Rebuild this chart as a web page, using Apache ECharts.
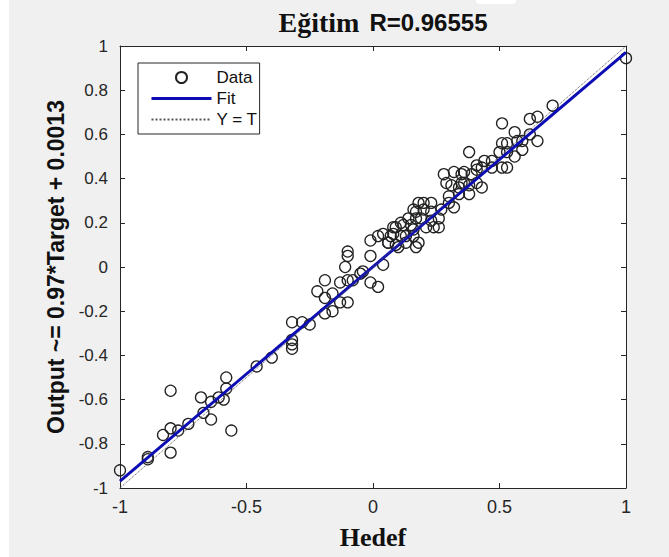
<!DOCTYPE html>
<html>
<head>
<meta charset="utf-8">
<script src="https://cdn.jsdelivr.net/npm/echarts@6/dist/echarts.min.js"></script>
<style>
html,body{margin:0;padding:0;background:#f0f0f0;}
#chart{width:669px;height:557px;}
</style>
</head>
<body>
<div id="chart"></div>
<script>
// Data (Target, Output)
const targets = [
 -1.00,-0.89,-0.89,-0.80,-0.83,-0.80,-0.77,-0.73,-0.80,-0.68,-0.67,-0.64,-0.64,-0.61,-0.59,-0.58,-0.58,-0.56,
 -0.46,-0.40,-0.32,-0.28,-0.25,-0.32,-0.32,-0.32,-0.22,-0.19,-0.19,-0.19,-0.16,-0.13,-0.10,-0.16,-0.13,-0.10,-0.08,
 -0.10,-0.10,-0.11,-0.05,-0.04,-0.01,0.02,-0.01,-0.01,0.02,0.04,0.06,0.08,0.08,0.10,0.11,0.13,0.14,0.16,0.17,0.17,
 0.04,0.06,0.07,0.09,0.09,0.12,0.11,0.13,0.15,0.16,0.18,0.18,0.20,0.23,0.16,0.20,0.23,0.26,0.17,0.19,0.23,0.26,0.21,0.24,
 0.28,0.29,0.35,0.39,0.41,0.38,0.31,0.35,0.38,0.30,0.34,0.38,0.32,0.30,0.27,0.36,0.32,0.36,0.34,0.41,0.43,0.41,0.43,
 0.44,0.47,0.47,0.51,0.53,0.50,0.53,0.56,0.59,0.51,0.53,0.57,0.59,0.65,0.62,0.56,0.51,0.62,0.65,0.71,1.00
];
const outputs = [
 -0.92,-0.87,-0.86,-0.84,-0.76,-0.73,-0.74,-0.71,-0.56,-0.59,-0.66,-0.69,-0.61,-0.59,-0.60,-0.50,-0.55,-0.74,
 -0.45,-0.41,-0.25,-0.25,-0.26,-0.33,-0.35,-0.37,-0.11,-0.06,-0.14,-0.21,-0.20,-0.16,-0.16,-0.12,-0.07,-0.06,-0.06,
 0.07,0.05,0.00,-0.03,-0.02,-0.07,-0.09,0.05,0.12,0.14,0.01,0.11,0.18,0.15,0.09,0.20,0.11,0.22,0.17,0.25,0.09,
 0.15,0.11,0.14,0.10,0.18,0.19,0.14,0.14,0.19,0.14,0.11,0.29,0.29,0.29,0.26,0.26,0.25,0.22,0.22,0.22,0.21,0.18,0.18,0.18,
 0.42,0.38,0.42,0.42,0.46,0.52,0.37,0.38,0.37,0.32,0.33,0.33,0.27,0.29,0.26,0.43,0.43,0.38,0.36,0.38,0.36,0.44,0.45,
 0.48,0.48,0.45,0.45,0.45,0.52,0.52,0.50,0.53,0.56,0.56,0.57,0.57,0.57,0.60,0.61,0.65,0.67,0.68,0.73,0.945
];
const fitLine = [[-1, -0.9687], [1, 0.9713]];   // Output ~= 0.97*Target + 0.0013
const identityLine = [[-1, -1], [1, 1]];         // Y = T
const xTickLabels = ['-1', '-0.5', '0', '0.5', '1'];
const yTickLabels = ['-1', '-0.8', '-0.6', '-0.4', '-0.2', '0', '0.2', '0.4', '0.6', '0.8', '1'];
const legendNames = ['Data', 'Fit', 'Y = T'];

const scatterData = targets.map((t, i) => [t, outputs[i]]);
const chart = echarts.init(document.getElementById('chart'), null, {renderer: 'svg'});

const axisCol = '#262626';
const tickFont = {fontFamily: 'Liberation Sans, Arial, sans-serif', fontSize: 17, color: axisCol};
const hidden = 'rgba(0,0,0,0)';

chart.setOption({
  backgroundColor: '#f0f0f0',
  animation: false,
  graphic: [
    {type: 'rect', shape: {x: 0, y: 0, width: 9, height: 557}, style: {fill: '#ffffff'}, silent: true},
    {type: 'rect', shape: {x: 476, y: -6, width: 40, height: 10, r: 4}, style: {fill: '#ffffff'}, silent: true},
    {
      type: 'text', x: 383, y: 22,
      style: {
        text: '{a|Eğitim}   {b|R=0.96555}',
        textAlign: 'center',
        textVerticalAlign: 'middle',
        rich: {
          a: {fontFamily: 'Liberation Serif, Times New Roman, serif', fontWeight: 'bold', fontSize: 28, fill: '#111'},
          b: {fontFamily: 'Liberation Sans, Arial, sans-serif', fontWeight: 'bold', fontSize: 24, fill: '#111'}
        }
      }
    }
  ],
  grid: {left: 120, right: 43, top: 46, bottom: 69, show: true, backgroundColor: '#ffffff', borderWidth: 0},
  legend: {
    data: [
      {name: legendNames[0]},
      {name: legendNames[1], lineStyle: {width: 3}},
      {name: legendNames[2]}
    ],
    orient: 'vertical',
    left: 138, top: 63,
    padding: [6, 2, 6, 12],
    itemWidth: 60, itemHeight: 11, itemGap: 4,
    backgroundColor: '#ffffff',
    borderColor: axisCol, borderWidth: 1,
    textStyle: {fontFamily: 'Liberation Sans, Arial, sans-serif', fontSize: 17, color: '#111'}
  },
  xAxis: [
    {
      type: 'value', min: -1, max: 1, interval: 0.5, position: 'bottom',
      name: 'Hedef', nameLocation: 'middle', nameGap: 36,
      nameTextStyle: {fontFamily: 'Liberation Serif, Times New Roman, serif', fontWeight: 'bold', fontSize: 26, color: '#111'},
      axisLine: {show: true, onZero: false, lineStyle: {color: axisCol, width: 1}},
      axisTick: {show: true, inside: true, length: 5, lineStyle: {color: axisCol}},
      axisLabel: {...tickFont, fontSize: 18, margin: 10, formatter: (v) => xTickLabels[Math.round((v + 1) / 0.5)]},
      splitLine: {show: false}
    },
    {
      type: 'value', min: -1, max: 1, interval: 0.5, position: 'top',
      axisLine: {show: true, onZero: false, lineStyle: {color: axisCol, width: 1}},
      axisTick: {show: true, inside: true, length: 5, lineStyle: {color: axisCol}},
      axisLabel: {show: false}, splitLine: {show: false}
    }
  ],
  yAxis: [
    {
      type: 'value', min: -1, max: 1, interval: 0.2, position: 'left',
      name: 'Output ~= 0.97*Target + 0.0013', nameLocation: 'middle', nameGap: 50, nameRotate: 90,
      nameTextStyle: {fontFamily: 'Liberation Sans, Arial, sans-serif', fontWeight: 'bold', fontSize: 23, color: '#111'},
      axisLine: {show: true, onZero: false, lineStyle: {color: axisCol, width: 1}},
      axisTick: {show: true, inside: true, length: 5, lineStyle: {color: axisCol}},
      axisLabel: {...tickFont, margin: 12, formatter: (v) => yTickLabels[Math.round((v + 1) / 0.2)]},
      splitLine: {show: false}
    },
    {
      type: 'value', min: -1, max: 1, interval: 0.2, position: 'right',
      axisLine: {show: true, onZero: false, lineStyle: {color: axisCol, width: 1}},
      axisTick: {show: true, inside: true, length: 5, lineStyle: {color: axisCol}},
      axisLabel: {show: false}, splitLine: {show: false}
    }
  ],
  series: [
    {
      name: 'Data', type: 'scatter', data: scatterData, symbol: 'circle', symbolSize: 11, z: 2,
      itemStyle: {color: hidden, borderColor: '#222', borderWidth: 1.3, opacity: 1}
    },
    {
      name: 'Fit', type: 'line', data: fitLine, showSymbol: false, symbol: 'none', z: 3,
      lineStyle: {color: '#0d0db4', width: 3}, itemStyle: {color: hidden, borderColor: hidden, borderWidth: 0}
    },
    {
      name: 'Y = T', type: 'line', data: identityLine, showSymbol: false, symbol: 'none', z: 4,
      lineStyle: {color: '#555', width: 1, type: 'dotted'}, itemStyle: {color: hidden, borderColor: hidden, borderWidth: 0}
    }
  ]
});
</script>
</body>
</html>
